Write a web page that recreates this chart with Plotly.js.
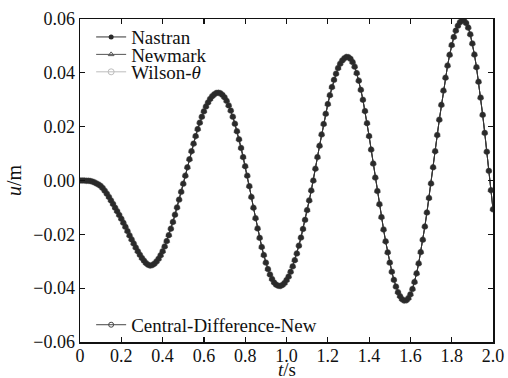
<!DOCTYPE html>
<html>
<head>
<meta charset="utf-8">
<script src="https://cdn.plot.ly/plotly-3.0.1.min.js"></script>
<style>body{margin:0;background:#fff}</style>
</head>
<body>
<div id="chart" style="width:508px;height:378px"></div>
<script>
// time (s)
const tSec = [
0.00,0.01,0.02,0.03,0.04,0.05,0.06,0.07,0.08,0.09,
0.10,0.11,0.12,0.13,0.14,0.15,0.16,0.17,0.18,0.19,
0.20,0.21,0.22,0.23,0.24,0.25,0.26,0.27,0.28,0.29,
0.30,0.31,0.32,0.33,0.34,0.35,0.36,0.37,0.38,0.39,
0.40,0.41,0.42,0.43,0.44,0.45,0.46,0.47,0.48,0.49,
0.50,0.51,0.52,0.53,0.54,0.55,0.56,0.57,0.58,0.59,
0.60,0.61,0.62,0.63,0.64,0.65,0.66,0.67,0.68,0.69,
0.70,0.71,0.72,0.73,0.74,0.75,0.76,0.77,0.78,0.79,
0.80,0.81,0.82,0.83,0.84,0.85,0.86,0.87,0.88,0.89,
0.90,0.91,0.92,0.93,0.94,0.95,0.96,0.97,0.98,0.99,
1.00,1.01,1.02,1.03,1.04,1.05,1.06,1.07,1.08,1.09,
1.10,1.11,1.12,1.13,1.14,1.15,1.16,1.17,1.18,1.19,
1.20,1.21,1.22,1.23,1.24,1.25,1.26,1.27,1.28,1.29,
1.30,1.31,1.32,1.33,1.34,1.35,1.36,1.37,1.38,1.39,
1.40,1.41,1.42,1.43,1.44,1.45,1.46,1.47,1.48,1.49,
1.50,1.51,1.52,1.53,1.54,1.55,1.56,1.57,1.58,1.59,
1.60,1.61,1.62,1.63,1.64,1.65,1.66,1.67,1.68,1.69,
1.70,1.71,1.72,1.73,1.74,1.75,1.76,1.77,1.78,1.79,
1.80,1.81,1.82,1.83,1.84,1.85,1.86,1.87,1.88,1.89,
1.90,1.91,1.92,1.93,1.94,1.95,1.96,1.97,1.98,1.99,
2.00];

// displacement u (m) (all four methods coincide)
const uNastran = [
0.0000,0.0000,0.0000,-0.0001,-0.0001,-0.0002,-0.0004,-0.0007,-0.0011,-0.0015,
-0.0020,-0.0028,-0.0038,-0.0049,-0.0061,-0.0074,-0.0087,-0.0101,-0.0114,-0.0128,
-0.0142,-0.0157,-0.0172,-0.0188,-0.0204,-0.0219,-0.0234,-0.0249,-0.0263,-0.0276,
-0.0288,-0.0298,-0.0307,-0.0313,-0.0316,-0.0314,-0.0309,-0.0301,-0.0291,-0.0278,
-0.0263,-0.0245,-0.0225,-0.0203,-0.0179,-0.0154,-0.0127,-0.0100,-0.0071,-0.0042,
-0.0012,0.0018,0.0049,0.0079,0.0109,0.0137,0.0165,0.0191,0.0215,0.0237,
0.0257,0.0275,0.0290,0.0303,0.0313,0.0320,0.0325,0.0326,0.0324,0.0318,
0.0309,0.0296,0.0279,0.0260,0.0237,0.0211,0.0183,0.0153,0.0121,0.0087,
0.0053,0.0018,-0.0021,-0.0061,-0.0101,-0.0140,-0.0178,-0.0213,-0.0247,-0.0277,
-0.0305,-0.0329,-0.0349,-0.0366,-0.0379,-0.0387,-0.0391,-0.0392,-0.0388,-0.0381,
-0.0370,-0.0357,-0.0339,-0.0319,-0.0296,-0.0271,-0.0242,-0.0212,-0.0180,-0.0146,
-0.0110,-0.0074,-0.0037,0.0000,0.0044,0.0087,0.0129,0.0171,0.0210,0.0248,
0.0284,0.0317,0.0347,0.0374,0.0397,0.0418,0.0434,0.0446,0.0454,0.0459,
0.0458,0.0452,0.0440,0.0423,0.0399,0.0371,0.0337,0.0300,0.0258,0.0213,
0.0165,0.0115,0.0063,0.0011,-0.0039,-0.0088,-0.0136,-0.0182,-0.0226,-0.0267,
-0.0305,-0.0339,-0.0369,-0.0394,-0.0415,-0.0430,-0.0441,-0.0446,-0.0445,-0.0437,
-0.0423,-0.0403,-0.0377,-0.0345,-0.0308,-0.0266,-0.0220,-0.0171,-0.0119,-0.0065,
-0.0011,0.0049,0.0109,0.0169,0.0226,0.0281,0.0334,0.0382,0.0427,0.0467,
0.0503,0.0533,0.0557,0.0575,0.0588,0.0594,0.0594,0.0585,0.0568,0.0543,
0.0509,0.0468,0.0421,0.0367,0.0308,0.0244,0.0177,0.0107,0.0036,-0.0036,
-0.0107];
const uNewmark = uNastran.slice();
const uWilson = uNastran.slice();
const uCentralDiffNew = uNastran.slice();

const seriesNames = ['Nastran', 'Newmark', 'Wilson-<i>θ</i>', 'Central-Difference-New'];

const xTickVals = [0,0.2,0.4,0.6,0.8,1.0,1.2,1.4,1.6,1.8,2.0];
const xTickText = ['0','0.2','0.4','0.6','0.8','1.0','1.2','1.4','1.6','1.8','2.0'];
const yTickVals = [0.06,0.04,0.02,0,-0.02,-0.04,-0.06];
const yTickText = ['0.06','0.04','0.02','0.00','\u22120.02','\u22120.04','\u22120.06'];
const xTitle = '<i>t</i>/s';
const yTitle = '<i>u</i>/m';

const FONT = 'Liberation Serif';

const traces = [
  {x:tSec, y:uWilson, name:seriesNames[2], mode:'lines+markers', legend:'legend3',
   line:{color:'#bdbdbd', width:1}, marker:{symbol:'circle-open', size:6, color:'#bdbdbd', line:{width:1}}},
  {x:tSec, y:uNewmark, name:seriesNames[1], mode:'lines+markers', legend:'legend2',
   line:{color:'#555', width:1}, marker:{symbol:'triangle-up-open', size:5, color:'#555', line:{width:1}}},
  {x:tSec, y:uCentralDiffNew, name:seriesNames[3], mode:'lines+markers', legend:'legend4',
   line:{color:'#444', width:1}, marker:{symbol:'circle-open', size:5, color:'#444', line:{width:1}}},
  {x:tSec, y:uNastran, name:seriesNames[0], mode:'lines+markers', legend:'legend',
   line:{color:'#333', width:1}, marker:{symbol:'circle', size:5, color:'#2a2a2a'}}
];

function leg(yv){
  return {x:0.027, y:yv, xanchor:'left', yanchor:'middle', bgcolor:'rgba(0,0,0,0)',
          borderwidth:0, font:{family:FONT, size:19, color:'#111'}, itemwidth:30};
}

const layout = {
  width:508, height:378,
  margin:{l:80, r:15, t:19, b:36},
  paper_bgcolor:'#fff', plot_bgcolor:'#fff',
  font:{family:FONT, size:18, color:'#111'},
  showlegend:true,
  legend:leg(0.944), legend2:leg(0.890), legend3:leg(0.836), legend4:leg(0.053),
  xaxis:{range:[0,2], tickmode:'array', tickvals:xTickVals, ticktext:xTickText,
    ticks:'inside', ticklen:5, tickwidth:1.2, tickcolor:'#111', ticklabelstandoff:-3,
    showline:true, linecolor:'#111', linewidth:1.5, mirror:'ticks',
    showgrid:false, zeroline:false, tickfont:{family:FONT, size:18, color:'#111'}},
  yaxis:{range:[-0.06,0.06], tickmode:'array', tickvals:yTickVals, ticktext:yTickText,
    ticks:'inside', ticklen:5, tickwidth:1.2, tickcolor:'#111',
    showline:true, linecolor:'#111', linewidth:1.5, mirror:'ticks',
    showgrid:false, zeroline:false, tickfont:{family:FONT, size:18, color:'#111'},
    title:{text:yTitle, font:{family:FONT, size:20, color:'#111'}, standoff:6}},
  annotations:[
    {text:xTitle, xref:'paper', yref:'paper', x:0.5, y:-0.124, xanchor:'center', yanchor:'bottom',
     showarrow:false, font:{family:FONT, size:19, color:'#111'}}
  ]
};

Plotly.newPlot('chart', traces, layout, {staticPlot:true, displayModeBar:false});
</script>
</body>
</html>
